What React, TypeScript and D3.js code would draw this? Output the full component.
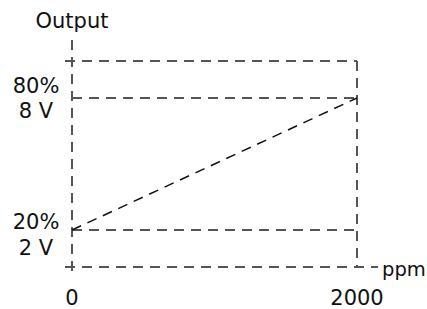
import * as d3 from 'd3';

// chart values
const ppmTicks = [0, 2000];
const levelValues = [2, 8];
const levelPercent = ['20%', '80%'];
const levelVolts = ['2 V', '8 V'];
const frameLimits = [0.32, 9.68];
const outputPpm = [0, 2000];
const outputVolts = [2, 8];

const WIDTH = 427;
const HEIGHT = 309;
const FONT = '"DejaVu Sans", Verdana, sans-serif';
const FRAME = '#555';
const FS = 21;

// label baseline offsets from each level line
const pctOffset = [-1, -5];
const voltOffset = [25, 20];

const App = () => {
  const xScale = d3.scaleLinear().domain([0, 2000]).range([72, 357]);
  const yScale = d3.scaleLinear().domain([2, 8]).range([230, 98]);

  const x0 = xScale(ppmTicks[0]);
  const x1 = xScale(ppmTicks[1]);
  const yBottom = yScale(frameLimits[0]);
  const yTop = yScale(frameLimits[1]);

  const line = d3.line<number>()
    .x((d, i) => xScale(outputPpm[i]))
    .y(d => yScale(d));

  const dash = '10 7';

  return (
    <svg width={WIDTH} height={HEIGHT} style={{ position: 'absolute', left: 0, top: 0 }}
      fontFamily={FONT}>
      <rect width={WIDTH} height={HEIGHT} fill="#fff" />

      {/* y axis */}
      <line x1={x0} x2={x0} y1={yTop - 21} y2={yBottom + 7}
        stroke={FRAME} strokeWidth={2} strokeDasharray={dash} />
      {/* x axis */}
      <line x1={x0 - 7} x2={x1 + 21} y1={yBottom} y2={yBottom}
        stroke={FRAME} strokeWidth={2} strokeDasharray={dash} />
      {/* top frame */}
      <line x1={x0 - 7} x2={x1} y1={yTop} y2={yTop}
        stroke={FRAME} strokeWidth={2} strokeDasharray={dash} />
      {/* right frame */}
      <line x1={x1} x2={x1} y1={yTop} y2={yBottom}
        stroke={FRAME} strokeWidth={2} strokeDasharray={dash} />

      {levelValues.map(v => (
        <line key={v} x1={x0} x2={x1} y1={yScale(v)} y2={yScale(v)}
          stroke={FRAME} strokeWidth={2} strokeDasharray={dash} />
      ))}

      <path d={line(outputVolts) ?? ''} fill="none" stroke="#111"
        strokeWidth={1.5} strokeDasharray={dash} />

      <text x={x0} y={28} fontSize={FS} textAnchor="middle" fill="#111">Output</text>

      {levelValues.map((v, i) => (
        <g key={'l' + v}>
          <text x={36} y={yScale(v) + pctOffset[i]} fontSize={FS} textAnchor="middle" fill="#111">{levelPercent[i]}</text>
          <text x={36} y={yScale(v) + voltOffset[i]} fontSize={FS} textAnchor="middle" fill="#111">{levelVolts[i]}</text>
        </g>
      ))}

      {ppmTicks.map(t => (
        <text key={t} x={xScale(t)} y={305} fontSize={FS} textAnchor="middle" fill="#111">{t}</text>
      ))}
      <text x={x1 + 25} y={yBottom + 9} fontSize={19.5} fill="#111">ppm</text>
    </svg>
  );
};

export default App;
